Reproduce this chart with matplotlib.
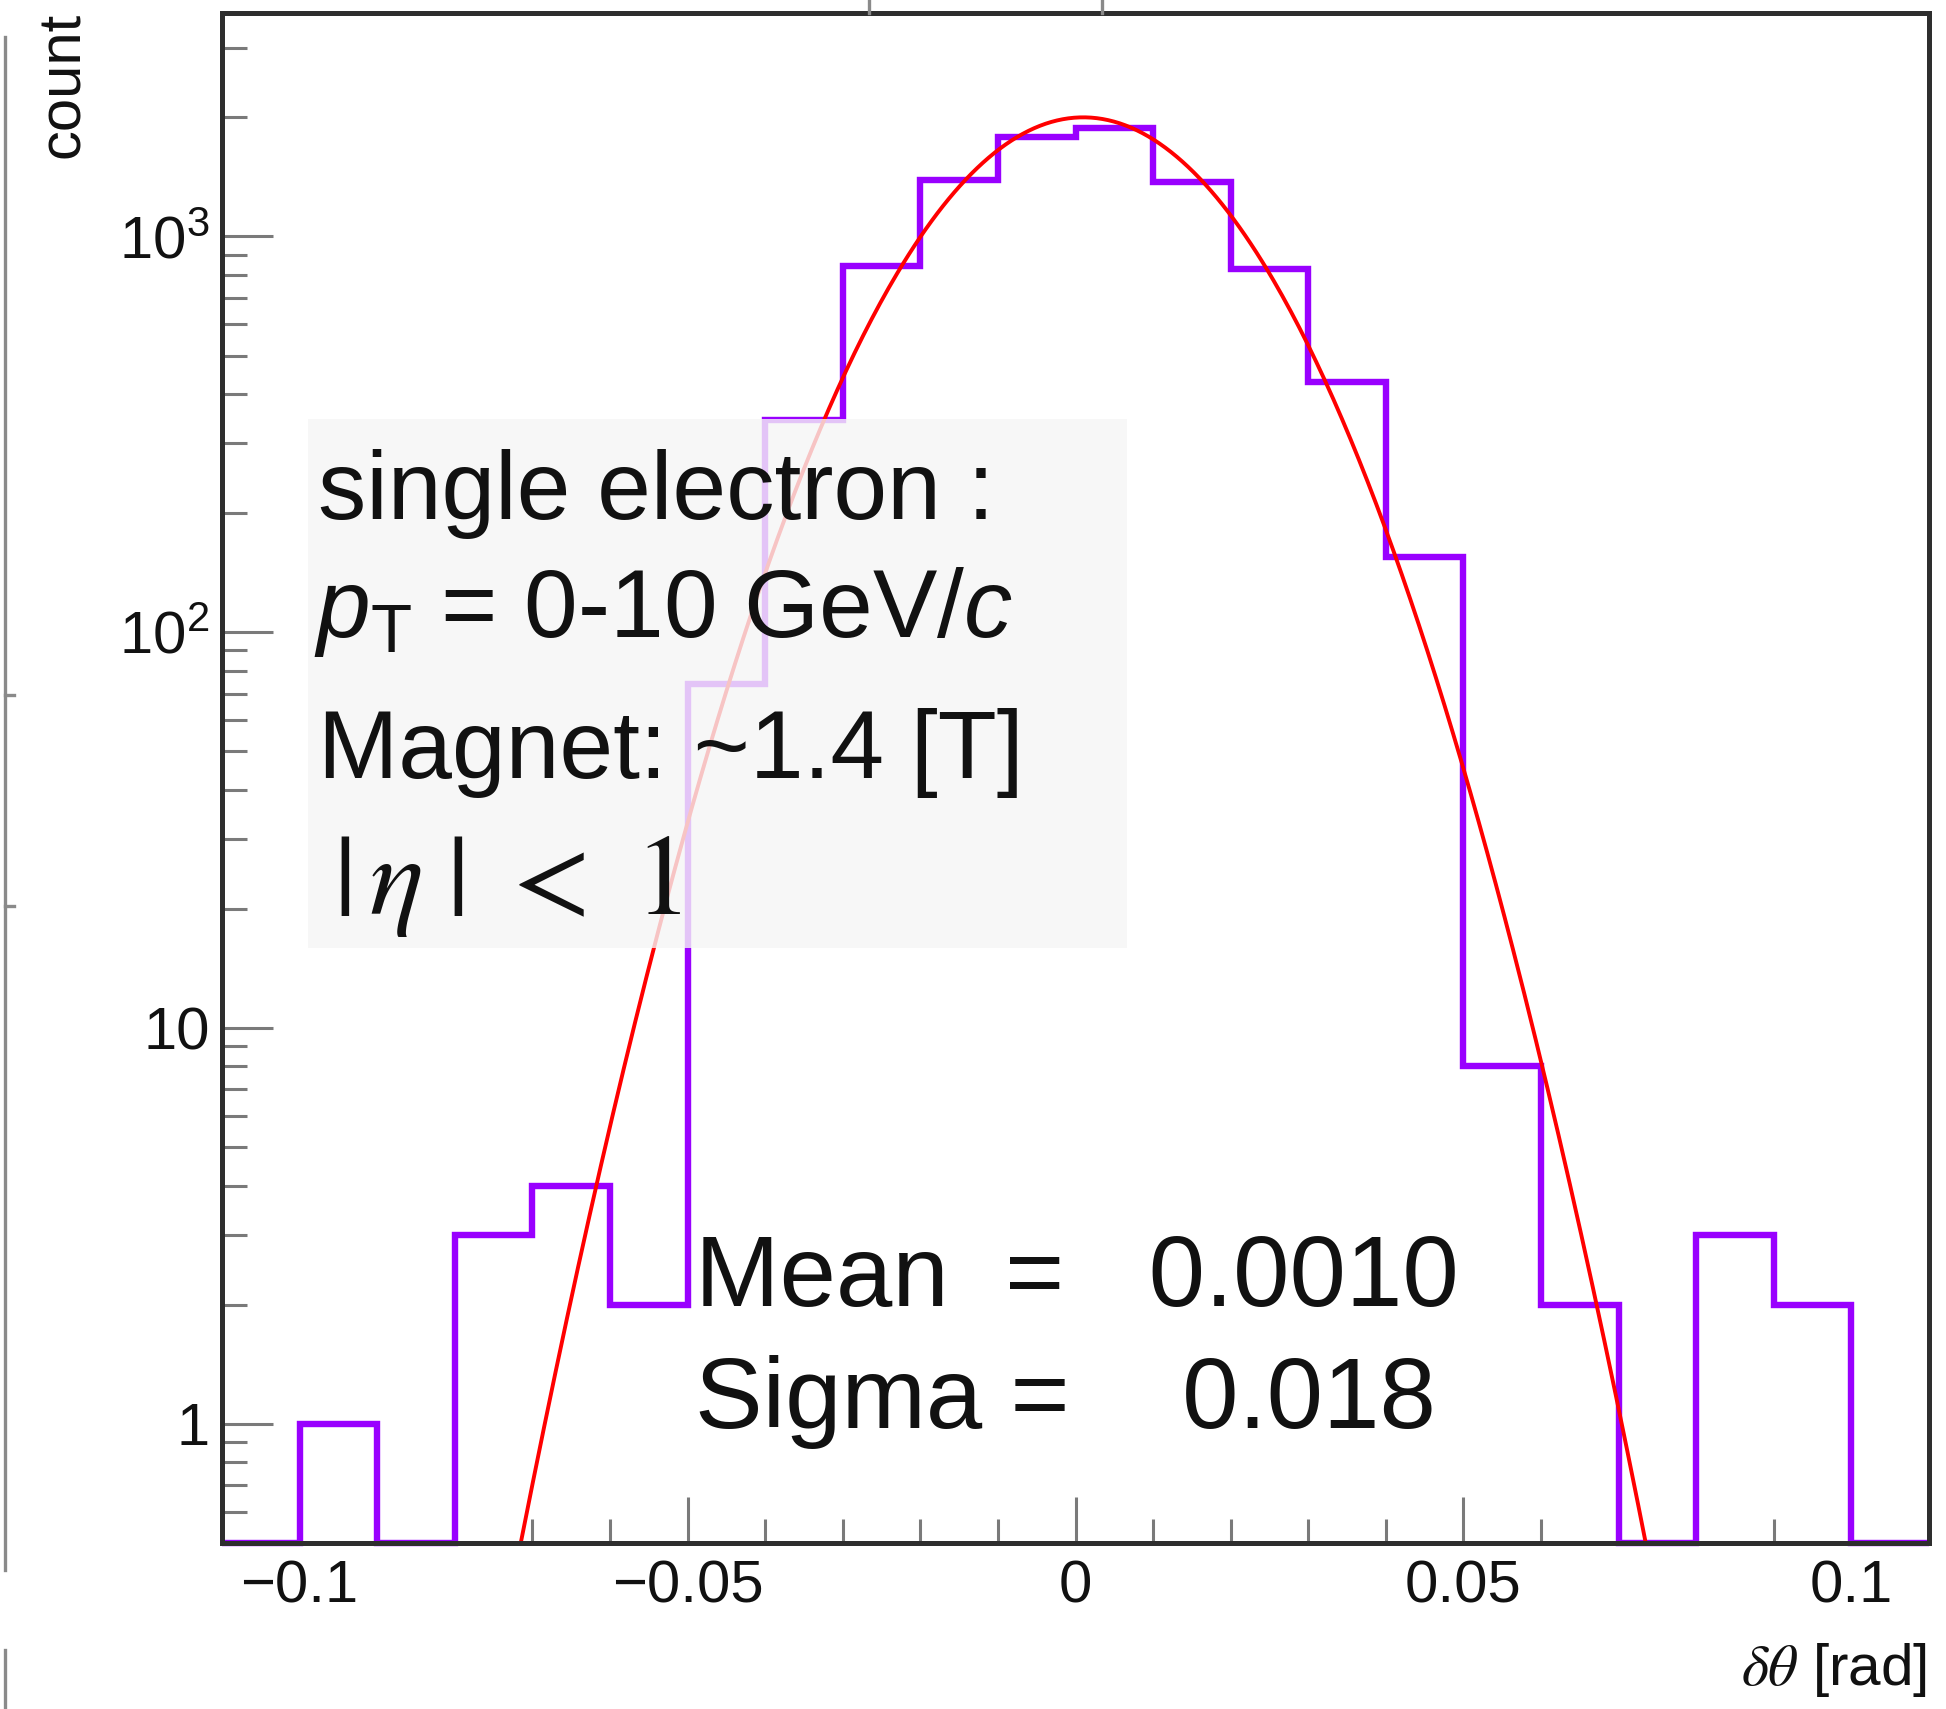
import numpy as np
import matplotlib
matplotlib.use("Agg")
import matplotlib.pyplot as plt
from matplotlib.lines import Line2D
from matplotlib.patches import Rectangle
from matplotlib.ticker import FixedLocator, MultipleLocator, LogLocator, NullFormatter

# histogram of delta theta, 0.01 rad bins
bin_edges = np.round(np.linspace(-0.11, 0.11, 23), 3)
counts = [0, 1, 0, 3, 4, 2, 74, 343, 841, 1386, 1782, 1877,
          1370, 830, 430, 155, 8, 2, 0, 3, 2, 0]

# gaussian fit
fit_amp = 2000.0
fit_mean = 0.001
fit_sigma = 0.0178

x_ticks = [-0.1, -0.05, 0, 0.05, 0.1]
x_ticklabels = ["\u22120.1", "\u22120.05", "0", "0.05", "0.1"]
y_ticks = [1, 10, 100, 1000]
y_ticklabels = ["1", "10", "$10^{2}$", "$10^{3}$"]

info_lines = ["single electron :", r"$p_{\mathrm{T}}$ = 0-10 GeV/$c$", "Magnet: ~1.4 [T]"]
eta_line = r"$|\,\eta\;|\ <\ 1$"
stat_lines = ["Mean  =   0.0010", "Sigma =    0.018"]

plt.rcParams["font.family"] = ["Liberation Sans", "DejaVu Sans"]
plt.rcParams["mathtext.fontset"] = "custom"
plt.rcParams["mathtext.rm"] = "Liberation Sans"
plt.rcParams["mathtext.it"] = "Liberation Sans:italic"

W, H = 1946, 1709
L, R, T, B = 222, 1929, 13, 1543  # frame in pixels


def axpos(px, py):
    return (px - L) / (R - L), (B - py) / (B - T)


fig = plt.figure(figsize=(W / 100, H / 100), dpi=100)
ax = fig.add_axes([L / W, 1 - B / H, (R - L) / W, (B - T) / H])
ax.set_yscale("log")
ax.set_xlim(-0.11, 0.11)
ax.set_ylim(0.5, 3670)

# zero bins sit on the bottom of the log axis, like ROOT
shown = np.maximum(np.array(counts, dtype=float), 0.5)
ax.stairs(shown, bin_edges, baseline=None, color="#9900ff", lw=4.6, clip_on=False, zorder=2)

xs = np.linspace(-0.11, 0.11, 600)
ax.plot(xs, fit_amp * np.exp(-0.5 * ((xs - fit_mean) / fit_sigma) ** 2), color="red", lw=2.8, zorder=2.2)

for s in ax.spines.values():
    s.set_linewidth(3.6)
    s.set_color("#2e2e2e")
    s.set_zorder(5)

ax.xaxis.set_major_locator(FixedLocator(x_ticks))
ax.set_xticklabels(x_ticklabels)
ax.xaxis.set_minor_locator(MultipleLocator(0.01))
ax.yaxis.set_major_locator(FixedLocator(y_ticks))
ax.set_yticklabels(y_ticklabels)
ax.yaxis.set_minor_locator(LogLocator(base=10, subs=np.arange(2, 10)))
ax.yaxis.set_minor_formatter(NullFormatter())
ax.tick_params(which="both", direction="in", color="#7a7a7a", width=2.2, labelsize=43,
               labelcolor="#111111")
ax.tick_params(axis="x", which="major", length=33, pad=12)
ax.tick_params(axis="x", which="minor", length=17)
ax.tick_params(axis="y", which="major", length=37, pad=9)
ax.tick_params(axis="y", which="minor", length=18)

# semi-transparent info box
bx0, by0 = axpos(308, 948)
bx1, by1 = axpos(1127, 419)
ax.add_patch(Rectangle((bx0, by0), bx1 - bx0, by1 - by0, transform=ax.transAxes,
                       facecolor="#f6f6f6", alpha=0.8, edgecolor="none", zorder=3))

for (px, py), txt in zip([(318, 519), (314, 637), (318, 778)], info_lines):
    ax.text(*axpos(px, py), txt, transform=ax.transAxes, fontsize=69.5, va="baseline", ha="left",
            color="#111111", zorder=4)
ax.text(*axpos(333, 914), eta_line, transform=ax.transAxes, fontsize=82, va="baseline", ha="left",
        color="#111111", math_fontfamily="stix", zorder=4)

for py, txt in zip([1306, 1428], stat_lines):
    ax.text(*axpos(695, py), txt, transform=ax.transAxes, fontsize=73, va="baseline", ha="left",
            color="#111111", zorder=4)

# axis titles
fig.text(64 / W, 1 - 12 / H, "count", rotation=90, ha="center", va="top", fontsize=43, color="#111111")
fig.text(1927 / W, 1 - 1685 / H, r"$\delta\theta$ [rad]", ha="right", va="baseline", fontsize=42,
         color="#111111", math_fontfamily="stix")

# bits of neighbouring pads left in the crop
gray = "#8a8a8a"
for xs_, ys_ in [([5, 5], [37, 1570]), ([5, 5], [1650, 1709]),
                 ([5, 14], [695, 695]), ([5, 14], [906, 906]),
                 ([869, 869], [0, 13]), ([1102, 1102], [0, 13])]:
    fig.add_artist(Line2D([x / W for x in xs_], [1 - y / H for y in ys_], transform=fig.transFigure,
                          color=gray, lw=2.4))

fig.savefig("out.png", dpi=100)
